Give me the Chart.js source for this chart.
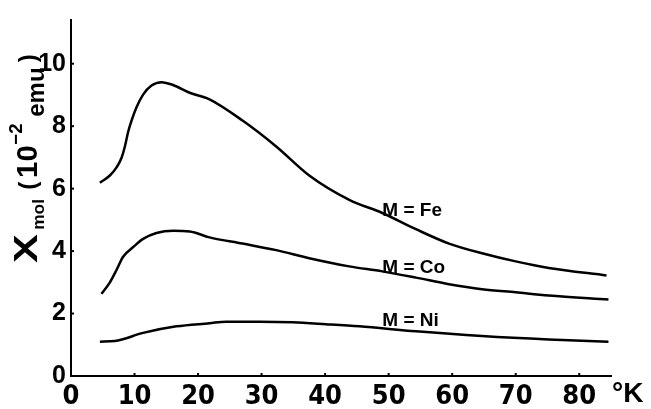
<!DOCTYPE html>
<html>
<head>
<meta charset="utf-8">
<script src="https://cdn.jsdelivr.net/npm/chart.js@4/dist/chart.umd.min.js"></script>
<style>
  html, body { margin: 0; padding: 0; background: #fff; }
  canvas { display: block; }
</style>
</head>
<body>
<canvas id="c" width="651" height="409"></canvas>
<script>
// ---- data ----
const feT = [4.55, 6.12, 7.17, 7.96, 8.48, 9.0, 9.53, 10.3, 11.35, 12.67, 14.24, 16.06, 18.68, 21.8, 27.0, 32.3, 37.5, 43.8, 49.0, 54.3, 59.5, 64.7, 70.0, 75.2, 84.3];
const feV = [6.19, 6.42, 6.68, 6.99, 7.35, 7.82, 8.18, 8.60, 9.01, 9.30, 9.41, 9.32, 9.07, 8.86, 8.18, 7.35, 6.42, 5.64, 5.22, 4.70, 4.24, 3.93, 3.67, 3.46, 3.22];

const coT = [4.8, 6.1, 7.2, 8.2, 9.8, 11.35, 13.45, 16.1, 18.7, 21.8, 27.0, 32.3, 37.5, 43.8, 49.0, 54.3, 59.5, 64.7, 70.0, 75.2, 84.6];
const coV = [2.63, 2.99, 3.41, 3.82, 4.13, 4.39, 4.58, 4.65, 4.63, 4.44, 4.24, 4.03, 3.77, 3.51, 3.35, 3.15, 2.94, 2.78, 2.68, 2.58, 2.45];

const niT = [4.55, 6.9, 11.35, 16.6, 21.8, 24.4, 29.7, 34.9, 40.1, 45.4, 54.3, 64.7, 75.2, 84.6];
const niV = [1.10, 1.12, 1.38, 1.59, 1.69, 1.74, 1.74, 1.72, 1.66, 1.59, 1.43, 1.28, 1.17, 1.10];

const seriesNames = ["M = Fe", "M = Co", "M = Ni"];
// label anchor in data units (T, value at text baseline)
const labelT = [49.0, 49.0, 49.0];
const labelV = [5.11, 3.30, 1.59];

const xTicks = [0, 10, 20, 30, 40, 50, 60, 70, 80];
const yTicks = [0, 2, 4, 6, 8, 10];
const xUnit = "°K";

function pts(t, v) { return t.map((x, i) => ({ x: x, y: v[i] })); }

const lineStyle = {
  borderColor: '#000', borderWidth: 2.5, pointRadius: 0,
  cubicInterpolationMode: 'monotone', fill: false
};

const decorPlugin = {
  id: 'decor',
  afterDraw(chart) {
    const ctx = chart.ctx;
    const xs = chart.scales.x, ys = chart.scales.y;
    ctx.save();
    ctx.fillStyle = '#000';
    ctx.strokeStyle = '#000';

    // small inward tick marks
    ctx.lineWidth = 2;
    xTicks.forEach(v => {
      if (v === 0) return;
      const px = xs.getPixelForValue(v);
      ctx.beginPath(); ctx.moveTo(px, ys.bottom); ctx.lineTo(px, ys.bottom - 3); ctx.stroke();
    });
    yTicks.forEach(v => {
      if (v === 0) return;
      const py = ys.getPixelForValue(v);
      ctx.beginPath(); ctx.moveTo(xs.left, py); ctx.lineTo(xs.left + 3, py); ctx.stroke();
    });

    // series labels
    ctx.font = 'bold 19px "Liberation Sans", Arial, sans-serif';
    ctx.textAlign = 'left';
    ctx.textBaseline = 'alphabetic';
    seriesNames.forEach((s, i) => {
      ctx.fillText(s, xs.getPixelForValue(labelT[i]), ys.getPixelForValue(labelV[i]));
    });

    // unit at the end of x axis
    ctx.font = 'bold 28px "Liberation Sans", Arial, sans-serif';
    ctx.fillText(xUnit, xs.right + 1, ys.bottom + 26);

    // y axis title, rotated
    ctx.translate(37, 263);
    ctx.rotate(-Math.PI / 2);
    ctx.scale(1.33, 1.33);
    ctx.textBaseline = 'alphabetic';
    ctx.save();
    ctx.scale(1.3, 1);
    ctx.font = 'bold 25px "Liberation Sans", Arial, sans-serif';
    ctx.fillText('X', 0, 0);
    ctx.restore();
    ctx.font = 'bold 13px "Liberation Sans", Arial, sans-serif';
    ctx.fillText('mol', 25, 5);
    ctx.font = 'bold 18px "Liberation Sans", Arial, sans-serif';
    ctx.fillText('(', 55, -1);
    ctx.font = 'bold 22px "Liberation Sans", Arial, sans-serif';
    ctx.fillText('10', 64, 0);
    ctx.font = 'bold 14px "Liberation Sans", Arial, sans-serif';
    ctx.fillText('\u22122', 89, -11);
    ctx.font = 'bold 18px "Liberation Sans", Arial, sans-serif';
    ctx.fillText('emu', 110, 5);
    ctx.fillText(')', 151, -1);
    ctx.restore();
  }
};

new Chart(document.getElementById('c'), {
  type: 'line',
  data: {
    datasets: [
      Object.assign({ label: seriesNames[0], data: pts(feT, feV) }, lineStyle),
      Object.assign({ label: seriesNames[1], data: pts(coT, coV) }, lineStyle),
      Object.assign({ label: seriesNames[2], data: pts(niT, niV) }, lineStyle)
    ]
  },
  options: {
    responsive: false,
    animation: false,
    devicePixelRatio: 1,
    layout: { padding: { left: 0, right: 40, top: 9, bottom: 0 } },
    plugins: { legend: { display: false }, tooltip: { enabled: false } },
    scales: {
      x: {
        type: 'linear', min: 0, max: 85,
        afterFit(s) { s.height = 33; },
        afterBuildTicks(s) { s.ticks = xTicks.map(v => ({ value: v })); },
        ticks: {
          color: '#000', padding: 5, maxRotation: 0, autoSkip: false,
          font: { family: '"Liberation Sans Narrow", "DejaVu Sans Condensed", sans-serif', weight: 'bold', size: 27 }
        },
        grid: { display: true, drawOnChartArea: false, drawTicks: false },
        border: { display: true, color: '#000', width: 2 }
      },
      y: {
        type: 'linear', min: 0, max: 11.4,
        afterFit(s) { s.width = 71; },
        afterBuildTicks(s) { s.ticks = yTicks.map(v => ({ value: v })); },
        ticks: {
          color: '#000', padding: 5, autoSkip: false,
          font: { family: '"Liberation Sans", Arial, sans-serif', weight: 'bold', size: 25 }
        },
        grid: { display: true, drawOnChartArea: false, drawTicks: false },
        border: { display: true, color: '#000', width: 2 }
      }
    }
  },
  plugins: [decorPlugin]
});
</script>
</body>
</html>
